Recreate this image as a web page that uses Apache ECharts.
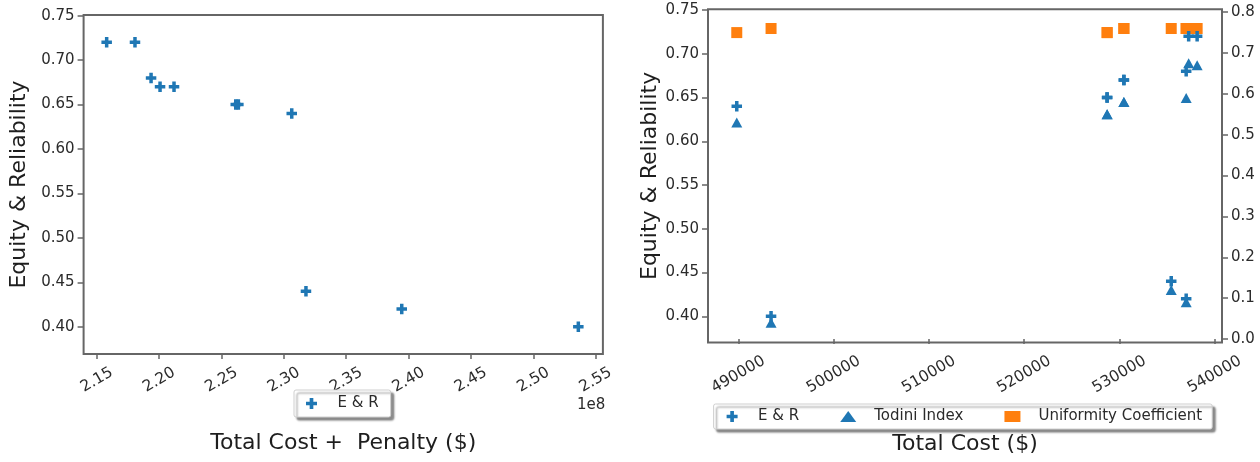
<!DOCTYPE html>
<html>
<head>
<meta charset="utf-8">
<title>Equity & Reliability vs cost</title>
<script src="https://cdn.jsdelivr.net/npm/echarts@6/dist/echarts.min.js"></script>
<style>
  html, body { margin: 0; padding: 0; background: #fff; }
  #chart { width: 1260px; height: 462px; }
</style>
</head>
<body>
<div id="chart"></div>
<script>
// left panel: total cost + penalty ($) vs E & R
const costPenalty = [215790000, 218060000, 219350000, 220070000, 221190000, 226140000, 226350000, 230630000, 231770000, 239450000, 253610000];
const erPenalty = [0.72, 0.72, 0.68, 0.67, 0.67, 0.65, 0.65, 0.64, 0.44, 0.42, 0.40];

// right panel: total cost ($) vs the three indices
const totalCost = [489840, 493440, 528720, 528720, 530480, 530480, 535450, 537020, 537020, 537280, 538170];
const erCost = [0.64, 0.40, 0.65, 0.65, 0.67, 0.67, 0.44, 0.42, 0.68, 0.72, 0.72];
const todini = [0.53, 0.04, 0.55, 0.55, 0.58, 0.58, 0.12, 0.09, 0.59, 0.675, 0.67];
const uniformity = [0.75, 0.76, 0.75, 0.75, 0.76, 0.76, 0.76, 0.76, 0.76, 0.76, 0.76];

// tick labels
const penaltyTicks = [215000000, 220000000, 225000000, 230000000, 235000000, 240000000, 245000000, 250000000, 255000000];
const costTicks = [490000, 500000, 510000, 520000, 530000, 540000];
const erTicks = [0.40, 0.45, 0.50, 0.55, 0.60, 0.65, 0.70, 0.75];
const rightTicks = [0.0, 0.1, 0.2, 0.3, 0.4, 0.5, 0.6, 0.7, 0.8];

const blue = '#1f77b4';
const orange = '#ff7f0e';
const frame = '#666666';
const txt = '#2b2b2b';
const font = 'DejaVu Sans';
const plusPath = 'path://M2,0H4V2H6V4H4V6H2V4H0V2H2Z';

const pair = (xs, ys) => xs.map((x, i) => [x, ys[i]]);

function xAxisOf(grid, min, max, ticks, fmt, margin, name, gap) {
  return {
    type: 'value', gridIndex: grid, min: min, max: max,
    splitLine: { show: false },
    axisLine: { show: false },
    axisTick: { show: true, length: 5, lineStyle: { color: frame, width: 1.5 }, customValues: ticks },
    axisLabel: {
      customValues: ticks, formatter: fmt, rotate: 30, align: 'center', verticalAlign: 'middle',
      margin: margin, fontSize: 15.5, color: txt, fontFamily: font
    },
    name: name, nameLocation: 'middle', nameGap: gap,
    nameTextStyle: { fontSize: 22, color: '#1e1e1e', fontFamily: font }
  };
}

function yAxisOf(grid, min, max, ticks, fmt, pos, name, gap) {
  return {
    type: 'value', gridIndex: grid, min: min, max: max, position: pos,
    splitLine: { show: false },
    axisLine: { show: false },
    axisTick: { show: true, length: 6, lineStyle: { color: frame, width: 1.5 }, customValues: ticks },
    axisLabel: { customValues: ticks, formatter: fmt, margin: 9, fontSize: 15, color: txt, fontFamily: font },
    name: name, nameLocation: 'middle', nameRotate: 90, nameGap: gap,
    nameTextStyle: { fontSize: 22, color: '#1e1e1e', fontFamily: font }
  };
}

const legendBase = {
  orient: 'horizontal',
  selectedMode: false,
  itemWidth: 16, itemHeight: 11,
  symbolKeepAspect: true,
  backgroundColor: '#fff',
  borderColor: '#cfcfcf', borderWidth: 1, borderRadius: 2,
  shadowColor: 'rgba(0,0,0,0.45)', shadowBlur: 2, shadowOffsetX: 3, shadowOffsetY: 3,
  formatter: '{t|{name}}',
  textStyle: { fontSize: 15, color: txt, fontFamily: font, rich: { t: { padding: [0, 0, 0, 13], fontSize: 15, fontFamily: font } } }
};

const chart = echarts.init(document.getElementById('chart'), null, { renderer: 'canvas' });

chart.setOption({
  backgroundColor: '#fff',
  animation: false,
  grid: [
    { left: 83.6, top: 15, width: 519.3, height: 339, show: true, borderColor: frame, borderWidth: 2, backgroundColor: 'transparent' },
    { left: 708, top: 9.3, width: 514, height: 333.2, show: true, borderColor: frame, borderWidth: 2, backgroundColor: 'transparent' }
  ],
  xAxis: [
    xAxisOf(0, 213940000, 255580000, penaltyTicks, v => (v / 1e8).toFixed(2), 26, 'Total Cost +  Penalty ($)', 78),
    xAxisOf(1, 486820, 540780, costTicks, v => String(v), 32, 'Total Cost ($)', 91)
  ],
  yAxis: [
    yAxisOf(0, 0.3693, 0.7508, erTicks, v => v.toFixed(2), 'left', 'Equity & Reliability', 53),
    yAxisOf(1, 0.3700, 0.7508, erTicks, v => v.toFixed(2), 'left', 'Equity & Reliability', 47),
    yAxisOf(1, -0.0086, 0.807, rightTicks, v => v.toFixed(1), 'right', '', 0)
  ],
  legend: [
    Object.assign({}, legendBase, {
      left: 294, top: 390, padding: [6, 12, 6, 12],
      data: ['E & R']
    }),
    Object.assign({}, legendBase, {
      left: 713.6, top: 404, padding: [5, 10, 5, 13], itemGap: 41,
      data: ['E & R', 'Todini Index', 'Uniformity Coefficient']
    })
  ],
  graphic: [
    { type: 'text', left: 577, top: 398, style: { text: '1e8', fontSize: 15, fill: txt, fontFamily: font } }
  ],
  series: [
    {
      name: 'E & R', type: 'scatter', xAxisIndex: 0, yAxisIndex: 0,
      symbol: plusPath, symbolSize: 10.5, itemStyle: { color: blue, opacity: 1 },
      data: pair(costPenalty, erPenalty)
    },
    {
      name: 'E & R', type: 'scatter', xAxisIndex: 1, yAxisIndex: 1,
      symbol: plusPath, symbolSize: 10.5, itemStyle: { color: blue, opacity: 1 }, z: 3,
      data: pair(totalCost, erCost)
    },
    {
      name: 'Todini Index', type: 'scatter', xAxisIndex: 1, yAxisIndex: 2,
      symbol: 'triangle', symbolSize: [11, 10], itemStyle: { color: blue, opacity: 1 }, z: 2,
      data: pair(totalCost, todini)
    },
    {
      name: 'Uniformity Coefficient', type: 'scatter', xAxisIndex: 1, yAxisIndex: 2,
      symbol: 'rect', symbolSize: 11, itemStyle: { color: orange, opacity: 1 }, z: 2,
      data: pair(totalCost, uniformity)
    }
  ]
});
</script>
</body>
</html>
